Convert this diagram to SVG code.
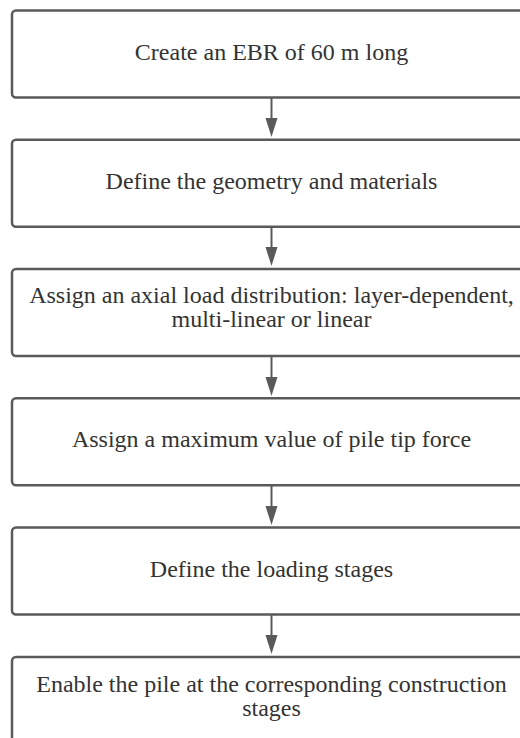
<svg xmlns="http://www.w3.org/2000/svg" width="520" height="738" viewBox="0 0 520 738">
<style>
.box{fill:#fff;stroke:#5a5a5a;stroke-width:2.5}
.t{font-size:24px;fill:#333;text-anchor:middle}
.c{stroke:#5a5a5a;stroke-width:2;fill:none}
.h{fill:#5a5a5a}
</style>
<rect width="520" height="738" fill="#fff"/>
<g font-family="Liberation Serif, Times New Roman, serif">
<g id="n1"><rect class="box" x="12" y="10.5" width="519" height="87" rx="4"/><text class="t" x="271.5" y="60">Create an EBR of 60 m long</text></g>
<g id="n2"><rect class="box" x="12" y="139.8" width="519" height="87" rx="4"/><text class="t" x="271.5" y="189">Define the geometry and materials</text></g>
<g id="n3"><rect class="box" x="12" y="269" width="519" height="87" rx="4"/><text class="t" x="271.5" y="303">Assign an axial load distribution: layer-dependent,</text><text class="t" x="271.5" y="327">multi-linear or linear</text></g>
<g id="n4"><rect class="box" x="12" y="398.3" width="519" height="87" rx="4"/><text class="t" x="271.5" y="447">Assign a maximum value of pile tip force</text></g>
<g id="n5"><rect class="box" x="12" y="527.5" width="519" height="87" rx="4"/><text class="t" x="271.5" y="577">Define the loading stages</text></g>
<g id="n6"><rect class="box" x="12" y="657" width="519" height="87" rx="4"/><text class="t" x="271.5" y="692">Enable the pile at the corresponding construction</text><text class="t" x="271.5" y="716">stages</text></g>
</g>
<g id="connectors">
<line class="c" x1="271.5" y1="98" x2="271.5" y2="119"/><path class="h" d="M265.5,118 L277.5,118 L271.5,137 Z"/>
<line class="c" x1="271.5" y1="227" x2="271.5" y2="248"/><path class="h" d="M265.5,247 L277.5,247 L271.5,266 Z"/>
<line class="c" x1="271.5" y1="357" x2="271.5" y2="378"/><path class="h" d="M265.5,377 L277.5,377 L271.5,396 Z"/>
<line class="c" x1="271.5" y1="486" x2="271.5" y2="507"/><path class="h" d="M265.5,506 L277.5,506 L271.5,525 Z"/>
<line class="c" x1="271.5" y1="615" x2="271.5" y2="636"/><path class="h" d="M265.5,635 L277.5,635 L271.5,654 Z"/>
</g>
</svg>
